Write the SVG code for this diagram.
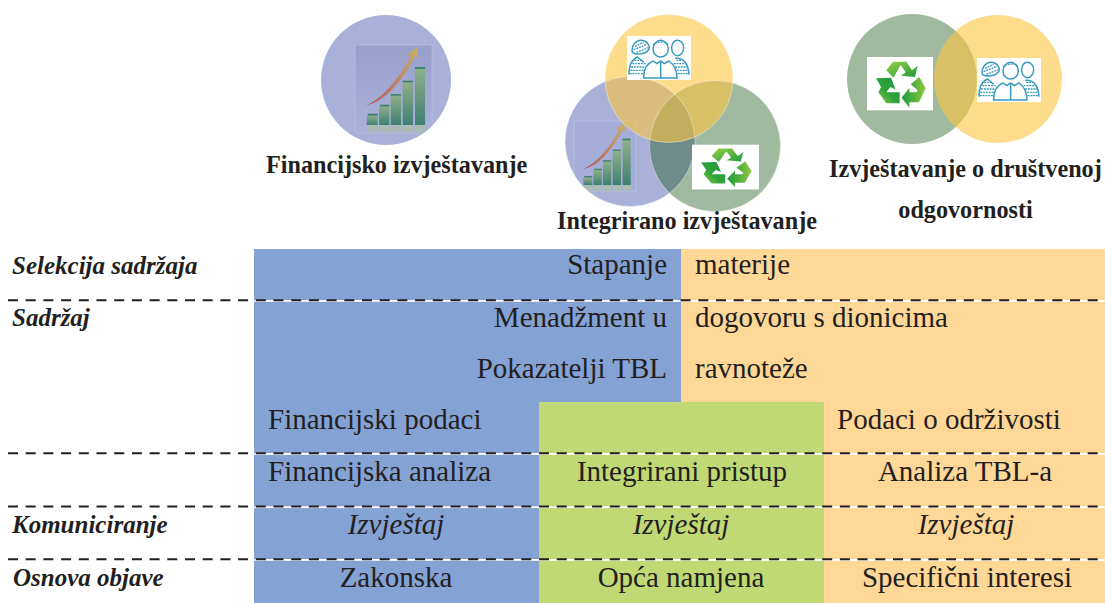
<svg xmlns="http://www.w3.org/2000/svg" width="1105" height="603" viewBox="0 0 1105 603">
<style>
text{font-family:"Liberation Serif","Times New Roman",serif;fill:#231f20}
.b{font-size:29px}
.i{font-size:29px;font-style:italic}
.l{font-size:25px;font-weight:bold;font-style:italic}
.h{font-size:24.200px;font-weight:bold}
.m{text-anchor:middle}
.e{text-anchor:end}
.cb{fill:#a9b1d9}
.cg{fill:#1d5a1d;fill-opacity:.42}
.cy{fill:#fcc53f;fill-opacity:.6}
.rim{fill:none;stroke:#fff;stroke-opacity:.4;stroke-width:1}
.dash{stroke:#231f20;stroke-width:2;stroke-dasharray:10 7.7;fill:none}
.wl{fill:#fff}
.ps{fill:none;stroke:#3a9ac0;stroke-width:4.500}
.pf{fill:none;stroke:#3a9ac0;stroke-width:4;stroke-dasharray:6 2.500}
</style>
<defs>
<linearGradient id="gr1" x1="0" y1="0" x2="1" y2="1"><stop offset="0" stop-color="#98cf45"/><stop offset="1" stop-color="#1c9a3c"/></linearGradient>
<linearGradient id="gr2" x1="1" y1="0" x2="0" y2="1"><stop offset="0" stop-color="#1c9a3c"/><stop offset=".55" stop-color="#2fa23c"/><stop offset="1" stop-color="#98cf45"/></linearGradient>
<linearGradient id="gr3" x1="1" y1="0" x2="0" y2="0"><stop offset="0" stop-color="#8cc83f"/><stop offset="1" stop-color="#1c9a3c"/></linearGradient>
<linearGradient id="bar" x1="0" y1="0" x2="0" y2="1"><stop offset="0" stop-color="#8fb08a"/><stop offset="1" stop-color="#3f7f72"/></linearGradient>
<linearGradient id="panel" x1="0" y1="0" x2="0" y2="1"><stop offset="0" stop-color="#989fc9"/><stop offset="1" stop-color="#aab2da"/></linearGradient>
<linearGradient id="arr" x1="0" y1="1" x2="1" y2="0"><stop offset="0" stop-color="#b5565e"/><stop offset="1" stop-color="#c9b06a"/></linearGradient>
<clipPath id="clip1"><circle cx="386" cy="80" r="65"/></clipPath>
<clipPath id="clip2"><circle cx="630" cy="141.500" r="65"/></clipPath>
<g id="recycle">
<rect x="6" y="6" width="198" height="160" fill="#fff"/>
<path fill="url(#gr1)" d="M64 46L84 20H124L141 46L158 32L150 66L108 62L122 52L107 30L85 68Z"/>
<path fill="url(#gr2)" d="M33 70L78 68L92 104L76 96L64 112H104V145H64L40 112L48 96Z"/>
<path fill="url(#gr3)" d="M137 88L163 66L182 100L162 142H133V158L110 128L133 98V112H155L158 106Z"/>
</g>
<g id="people">
<rect x="6" y="9" width="192" height="132" fill="#fff"/>
<path class="ps" d="M22 58C18 38 34 20 50 22C66 24 78 38 70 52C62 62 36 68 22 58Z"/>
<path class="pf" d="M26 50L66 34M30 40L56 28M34 58L70 44"/>
<path class="ps" d="M84 48C84 32 96 22 107 22C118 22 130 32 130 48C130 64 118 72 107 72C96 72 84 64 84 48Z"/>
<path class="pf" d="M84 36C92 26 120 22 130 36"/>
<path class="ps" d="M140 44C140 30 148 22 157 22C166 22 176 30 176 44C176 58 166 68 157 68C148 68 140 58 140 44Z"/>
<path class="ps" d="M56 135C56 110 62 95 84 84L96 92L107 84L118 92L132 84C146 94 156 112 156 135ZM107 88V135"/>
<path class="ps" d="M12 125C12 95 22 78 38 72L56 88M150 76C172 72 190 90 192 125"/>
<path class="pf" d="M14 122H54M16 112H56M18 102H60M22 92H64M28 82H52M158 122H190M156 112H188M150 102H186M146 92H182M154 82H172"/>
</g>
<g id="chart-bars">
<g fill="#a8bcb4"><rect x="45" y="250" width="33" height="22"/><rect x="82" y="250" width="31" height="22"/><rect x="117" y="250" width="31" height="22"/><rect x="153" y="250" width="31" height="22"/><rect x="190" y="250" width="30" height="22"/></g>
<g fill="url(#bar)"><rect x="45" y="222" width="33" height="28"/><rect x="82" y="193" width="31" height="57"/><rect x="117" y="160" width="31" height="90"/><rect x="153" y="120" width="31" height="130"/><rect x="190" y="80" width="30" height="170"/></g>
<g fill="#3f7f72"><rect x="48" y="216" width="30" height="6"/><rect x="85" y="189" width="28" height="5"/><rect x="117" y="157" width="31" height="5"/><rect x="153" y="117" width="31" height="5"/><rect x="190" y="76" width="30" height="6"/></g>
<path fill="url(#arr)" d="M42 191C95 170 140 110 176 48L168 38L198 15L198 53L189 45C150 120 100 180 42 191Z"/>
</g>
</defs>
<g id="node-financijsko">
<circle class="cb" cx="386" cy="80" r="65"/>
<g clip-path="url(#clip1)">
<rect x="355" y="45" width="77" height="88" fill="url(#panel)" stroke="#b9c0e2" stroke-width=".7"/>
<use href="#chart-bars" transform="translate(351.7,41.7) scale(.3333)"/>
</g>
<text class="h" x="266" y="173">Financijsko izvještavanje</text>
</g>
<g id="node-integrirano">
<circle class="cb" cx="630" cy="141.500" r="65"/>
<g clip-path="url(#clip2)">
<rect x="574" y="121" width="62" height="70" fill="#a5aed8" stroke="#c0c6e4" stroke-width=".7"/>
<use href="#chart-bars" transform="translate(571.3,118.3) scale(.27,.267)"/>
</g>
<circle class="cg" cx="715" cy="146" r="65.500"/>
<circle class="cy" cx="669" cy="78.500" r="64"/>
<circle class="rim" cx="630" cy="141.500" r="65"/>
<circle class="rim" cx="715" cy="146" r="65.500"/>
<circle class="rim" cx="669" cy="78.500" r="64"/>
<use href="#people" transform="translate(625,33) scale(.3333)"/>
<use href="#recycle" transform="translate(690,143) scale(.3383,.28)"/>
<text class="h" x="557" y="229">Integrirano izvještavanje</text>
</g>
<g id="node-drustvena">
<circle class="cg" cx="912" cy="79" r="65"/>
<circle class="cy" cx="998" cy="79" r="64"/>
<use href="#recycle" transform="translate(865,55) scale(.3333)"/>
<use href="#people" transform="translate(975,55) scale(.3333)"/>
<text class="h" x="829" y="177">Izvještavanje o društvenoj</text>
<text class="h m" x="965.500" y="218">odgovornosti</text>
</g>
<g id="bands">
<rect x="254" y="249" width="427" height="354" fill="#85a2d4"/>
<rect x="681" y="249" width="424" height="153" fill="#ffd797"/>
<rect x="824" y="402" width="281" height="201" fill="#ffd797"/>
<rect x="539" y="402" width="285" height="201" fill="#c0d974"/>
</g>
<g id="connectors">
<rect class="wl" x="254" y="300" width="851" height="1.800"/>
<rect class="wl" x="254" y="453" width="851" height="1.800"/>
<rect class="wl" x="254" y="506.300" width="851" height="1.800"/>
<rect class="wl" x="254" y="559" width="851" height="1.800"/>
<path class="dash" d="M8 300.300H1105M8 453.300H1105M8 506.600H1105M8 559.300H1105"/>
</g>
<g id="row-labels">
<text class="l" x="12" y="274">Selekcija sadržaja</text>
<text class="l" x="12" y="326">Sadržaj</text>
<text class="l" x="12" y="533">Komuniciranje</text>
<text class="l" x="13" y="586">Osnova objave</text>
</g>
<g id="cells">
<text class="b e" x="667" y="274">Stapanje</text>
<text class="b" x="695" y="274">materije</text>
<text class="b e" x="667" y="327">Menadžment u</text>
<text class="b" x="695" y="327">dogovoru s dionicima</text>
<text class="b e" x="667" y="378">Pokazatelji TBL</text>
<text class="b" x="695" y="378">ravnoteže</text>
<text class="b" x="268" y="429">Financijski podaci</text>
<text class="b" x="837" y="429">Podaci o održivosti</text>
<text class="b" x="268" y="481">Financijska analiza</text>
<text class="b m" x="682" y="481">Integrirani pristup</text>
<text class="b m" x="965" y="481">Analiza TBL-a</text>
<text class="i m" x="396" y="534">Izvještaj</text>
<text class="i m" x="681" y="534">Izvještaj</text>
<text class="i m" x="966" y="534">Izvještaj</text>
<text class="b m" x="396" y="587">Zakonska</text>
<text class="b m" x="681" y="587">Opća namjena</text>
<text class="b m" x="967" y="587">Specifični interesi</text>
</g>
</svg>
